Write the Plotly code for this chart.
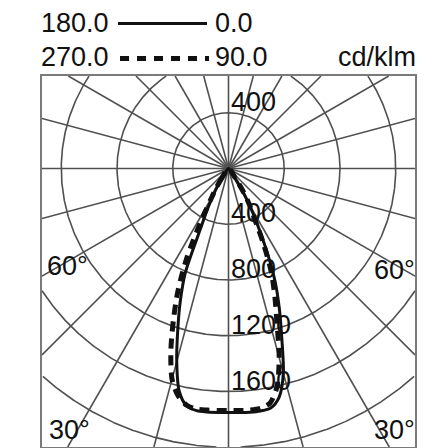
import numpy as np
import plotly.graph_objects as go

# ---------------- data (cd/klm) ----------------
gamma = [0, 2.5, 5, 7.5, 10, 12.5, 15, 17.5, 20, 22.5, 25, 27.5, 30, 32.5, 35, 37.5]
c0   = [1750, 1752, 1755, 1755, 1745, 1680, 1520, 1270, 1065, 870, 640, 440, 290, 170, 60, 0]
c180 = [1750, 1752, 1754, 1752, 1730, 1635, 1435, 1210, 1010, 810, 470, 320, 220, 140, 50, 0]
c90  = [1736, 1738, 1740, 1735, 1710, 1605, 1405, 1155, 970, 800, 590, 400, 300, 200, 90, 0]
c270 = [1736, 1738, 1740, 1742, 1725, 1670, 1565, 1375, 1155, 945, 705, 430, 250, 160, 80, 0]

ring_values = [400, 800, 1200, 1600, 2000, 2400]
ring_labels_below = [400, 800, 1200, 1600, 2000]
ring_labels_above = [400]
spoke_step = 15
legend_rows = [("180.0", "0.0"), ("270.0", "90.0")]
unit_label = "cd/klm"
angle_labels = ["60°", "30°"]

# ---------------- geometry ----------------
W = H = 448
L, R, T, B = 34, 407, 68, 439           # plot area in pixels
CX, CY = 220.5, 160.5                    # pole in pixels
UPP = 400 / 55.75                        # units per pixel

xr = [(L - CX) * UPP, (R - CX) * UPP]
yr = [-(B - CY) * UPP, (CY - T) * UPP]

def px(x):
    return (x - L) / (R - L)

def py(y):
    return (B - y) / (B - T)

def side(vals, sign):
    g = np.radians(gamma)
    v = np.array(vals, dtype=float)
    return sign * v * np.sin(g), -v * np.cos(g)

def curve(left_vals, right_vals):
    lx, ly = side(left_vals, -1)
    rx, ry = side(right_vals, 1)
    x = np.concatenate([lx[::-1], rx[1:]])
    y = np.concatenate([ly[::-1], ry[1:]])
    return [float(v) for v in x], [float(v) for v in y]

FONT = "Liberation Sans, Arial, Helvetica, sans-serif"
FS = 27
GRID = "#505050"
GW = 1.6
INK = "#111111"

fig = go.Figure()

def inside(x, y):
    return xr[0] <= x <= xr[1] and yr[0] <= y <= yr[1]

# rings: only the visible arcs
th = np.linspace(0, 2 * np.pi, 1441)
for r in ring_values:
    segs, cur = [], []
    for t in th:
        x, y = float(r * np.sin(t)), float(r * np.cos(t))
        if inside(x, y):
            cur.append((x, y))
        elif cur:
            segs.append(cur); cur = []
    if cur:
        segs.append(cur)
    for s in segs:
        if len(s) > 1:
            fig.add_trace(go.Scatter(x=[p[0] for p in s], y=[p[1] for p in s], mode="lines",
                                     line=dict(color=GRID, width=GW), hoverinfo="skip",
                                     showlegend=False))

# spokes: from the pole to the frame
for a in range(0, 360, spoke_step):
    t = np.radians(a)
    ux, uy = float(np.sin(t)), float(-np.cos(t))
    cands = []
    if ux > 1e-9: cands.append(xr[1] / ux)
    if ux < -1e-9: cands.append(xr[0] / ux)
    if uy > 1e-9: cands.append(yr[1] / uy)
    if uy < -1e-9: cands.append(yr[0] / uy)
    s = min(cands)
    fig.add_trace(go.Scatter(x=[0.0, s * ux], y=[0.0, s * uy], mode="lines",
                             line=dict(color=GRID, width=GW), hoverinfo="skip", showlegend=False))

sx, sy = curve(c180, c0)
dx, dy = curve(c270, c90)
fig.add_trace(go.Scatter(x=dx, y=dy, mode="lines",
                         line=dict(color=INK, width=5, dash="10px,7px", shape="spline", smoothing=0.8),
                         hoverinfo="skip", showlegend=False))
fig.add_trace(go.Scatter(x=sx, y=sy, mode="lines",
                         line=dict(color=INK, width=3, shape="spline", smoothing=0.8),
                         hoverinfo="skip", showlegend=False))

shapes = [
    dict(type="line", xref="paper", yref="paper", x0=px(110), x1=px(199), y0=py(15.5), y1=py(15.5),
         line=dict(color=INK, width=3)),
    dict(type="line", xref="paper", yref="paper", x0=px(112), x1=px(201), y0=py(50.5), y1=py(50.5),
         line=dict(color=INK, width=5, dash="9px,8px")),
]

ann = []
def text(s, x, y, xanchor="left", yanchor="middle", xref="paper", yref="paper", yshift=0):
    ann.append(dict(text=s, x=x, y=y, xref=xref, yref=yref, xanchor=xanchor, yanchor=yanchor,
                    showarrow=False, yshift=yshift, font=dict(family=FONT, size=FS, color=INK)))

text(legend_rows[0][0], px(31), py(15.5))
text(legend_rows[0][1], px(205), py(15.5))
text(legend_rows[1][0], px(31), py(49))
text(legend_rows[1][1], px(205), py(49))
text(unit_label, px(410), py(49), xanchor="right")

for v in ring_labels_below:
    text(str(v), 0, -v, xref="x", yref="y", yanchor="bottom", yshift=-6)
for v in ring_labels_above:
    text(str(v), 0, v, xref="x", yref="y", yanchor="bottom", yshift=-6)

text(angle_labels[0], px(37), py(257.5))
text(angle_labels[0], px(409), py(261.5), xanchor="right")
text(angle_labels[1], px(39), py(422))
text(angle_labels[1], px(409), py(422), xanchor="right")

ax = dict(showgrid=False, zeroline=False, showticklabels=False, ticks="",
          showline=True, mirror=True, linecolor="#7a7a7a", linewidth=2, fixedrange=True,
          automargin=False)
fig.update_layout(
    width=W, height=H,
    margin=dict(l=L, r=W - R, t=T, b=H - B, autoexpand=False),
    paper_bgcolor="white", plot_bgcolor="white",
    xaxis=dict(ax, range=xr),
    yaxis=dict(ax, range=yr),
    shapes=shapes, annotations=ann, showlegend=False,
)
fig.write_html("out.html")
